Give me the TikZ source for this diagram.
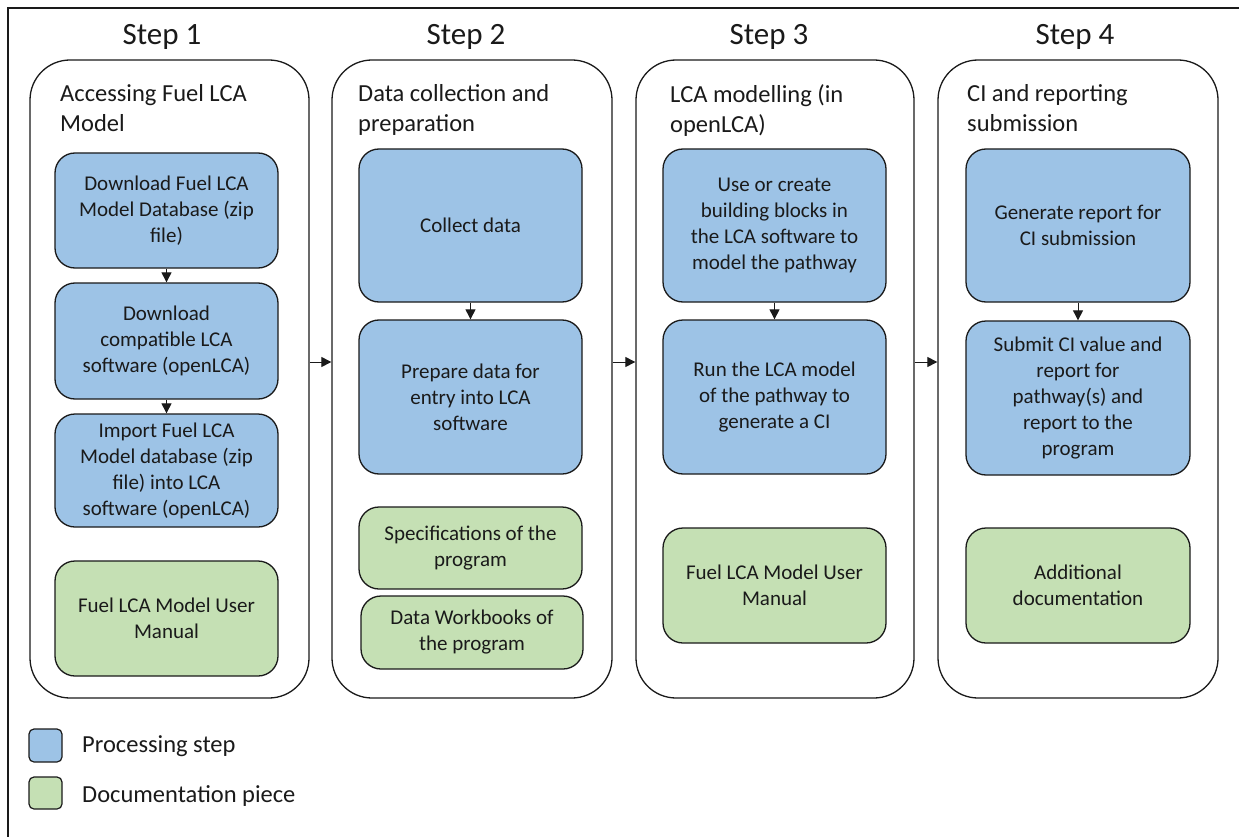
\documentclass[tikz,border=0pt]{standalone}
\usepackage{fontspec}
\setmainfont{Carlito}
\usetikzlibrary{arrows.meta}
\definecolor{procblue}{HTML}{9DC3E6}
\definecolor{docgreen}{HTML}{C5E0B4}
\definecolor{ink}{HTML}{1A1A1A}
\tikzset{
  colbox/.style={draw=ink, line width=1.3pt, rounded corners=40pt, fill=white},
  procbox/.style={draw=ink, line width=1.3pt, rounded corners=20pt, fill=procblue,
    align=center, inner sep=0pt, text=ink, font=\fontsize{21}{26}\selectfont},
  docbox/.style={procbox, fill=docgreen},
  keybox/.style={draw=ink, line width=1.2pt, rounded corners=5pt, inner sep=0pt},
  steptitle/.style={anchor=base, text=ink, font=\fontsize{31}{36}\selectfont, inner sep=0pt},
  coltitle/.style={anchor=north west, align=left, text=ink, inner sep=0pt,
    font=\fontsize{24.5}{30}\selectfont},
  keytext/.style={anchor=base west, text=ink, inner sep=0pt, font=\fontsize{24.5}{30}\selectfont},
  flow/.style={draw=ink, line width=1pt, -{Triangle[width=10pt,length=10pt]}}
}
% box given by its left, top, right and bottom edges
\newcommand\placebox[7]{%
  \node[#6, minimum width={(#4-#2)*1pt}, minimum height={(#5-#3)*1pt}]
    (#1) at ({(#2+#4)/2},{(#3+#5)/2}) {#7};}
\begin{document}
\begin{tikzpicture}[x=1pt, y=-1pt]
\useasboundingbox (0,0) rectangle (1239,837);
% frame
\draw[draw=ink, line width=1.3pt] (8,837) -- (8,8) -- (1239,8);

% step headings
\node[steptitle] (s1) at (162,45) {Step 1};
\node[steptitle] (s2) at (466,45) {Step 2};
\node[steptitle] (s3) at (769,45) {Step 3};
\node[steptitle] (s4) at (1075,45) {Step 4};

% step columns
\placebox{c1}{30}{60}{309}{698}{colbox}{}
\placebox{c2}{332}{60}{612}{698}{colbox}{}
\placebox{c3}{636}{60}{914}{698}{colbox}{}
\placebox{c4}{938}{60}{1218}{698}{colbox}{}

\node[coltitle] (t1) at (60,84) {Accessing Fuel LCA\\Model};
\node[coltitle] (t2) at (358,84) {Data collection and\\preparation};
\node[coltitle] (t3) at (670,84) {LCA modelling (in\\openLCA)};
\node[coltitle] (t4) at (967,84) {CI and reporting\\submission};

% step 1
\placebox{a1}{55}{153}{278}{268}{procbox}{Download Fuel LCA\\Model Database (zip\\file)}
\placebox{a2}{55}{283}{278}{399}{procbox}{Download\\compatible LCA\\software (openLCA)}
\placebox{a3}{55}{414}{278}{527}{procbox}{Import Fuel LCA\\Model database (zip\\file) into LCA\\software (openLCA)}
\placebox{a4}{55}{561}{278}{676}{docbox}{Fuel LCA Model User\\Manual}

% step 2
\placebox{b1}{359}{149}{582}{302}{procbox}{Collect data}
\placebox{b2}{359}{320}{582}{474}{procbox}{Prepare data for\\entry into LCA\\software}
\placebox{b3}{359}{507}{582}{589}{docbox}{Specifications of the\\program}
\placebox{b4}{361}{596}{583}{669}{docbox}{Data Workbooks of\\the program}

% step 3
\placebox{d1}{663}{149}{886}{302}{procbox}{Use or create\\building blocks in\\the LCA software to\\model the pathway}
\placebox{d2}{663}{320}{886}{474}{procbox}{Run the LCA model\\of the pathway to\\generate a CI}
\placebox{d3}{663}{528}{886}{643}{docbox}{Fuel LCA Model User\\Manual}

% step 4
\placebox{e1}{966}{149}{1190}{302}{procbox}{Generate report for\\CI submission}
\placebox{e2}{966}{321}{1190}{475}{procbox}{Submit CI value and\\report for\\pathway(s) and\\report to the\\program}
\placebox{e3}{966}{528}{1190}{643}{docbox}{Additional\\documentation}

% flow inside the columns
\draw[flow] (a1) -- (a2);
\draw[flow] (a2) -- (a3);
\draw[flow] (b1) -- (b2);
\draw[flow] (d1) -- (d2);
\draw[flow] (e1) -- (e2);

% flow between the columns
\coordinate (lvl) at (0,362);
\draw[flow] (c1.east |- lvl) -- (c2.west |- lvl);
\draw[flow] (c2.east |- lvl) -- (c3.west |- lvl);
\draw[flow] (c3.east |- lvl) -- (c4.west |- lvl);

% key
\placebox{k1}{29}{729}{62}{762}{keybox, fill=procblue}{}
\placebox{k2}{29}{777}{62}{809}{keybox, fill=docgreen}{}
\node[keytext] (k1t) at (82,752) {Processing step};
\node[keytext] (k2t) at (82,802) {Documentation piece};
\end{tikzpicture}
\end{document}
